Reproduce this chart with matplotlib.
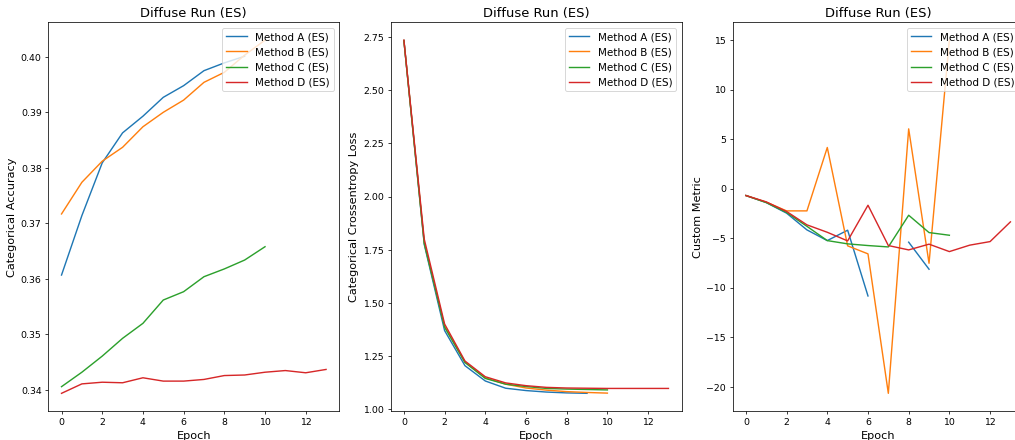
import numpy as np
import matplotlib
matplotlib.use("Agg")
import matplotlib.pyplot as plt

nan = np.nan
methods = ["Method A (ES)", "Method B (ES)", "Method C (ES)", "Method D (ES)"]
colors = ["#1f77b4", "#ff7f0e", "#2ca02c", "#d62728"]

# Categorical accuracy
acc_a = [0.3607, 0.3714, 0.3809, 0.3863, 0.3893, 0.3927, 0.3948, 0.3975, 0.3989, 0.4001]
acc_b = [0.3717, 0.3774, 0.3812, 0.3837, 0.3874, 0.3900, 0.3922, 0.3954, 0.3972, 0.4003, 0.4030]
acc_c = [0.3406, 0.3432, 0.3461, 0.3493, 0.3520, 0.3562, 0.3577, 0.3604, 0.3618, 0.3634, 0.3658]
acc_d = [0.3394, 0.3411, 0.3414, 0.3413, 0.3422, 0.3416, 0.3416, 0.3419, 0.3426, 0.3427,
         0.3432, 0.3435, 0.3431, 0.3437]

# Categorical crossentropy loss
loss_a = [2.734, 1.775, 1.370, 1.205, 1.133, 1.099, 1.088, 1.081, 1.077, 1.075]
loss_b = [2.734, 1.785, 1.390, 1.222, 1.148, 1.118, 1.100, 1.090, 1.083, 1.079, 1.076]
loss_c = [2.734, 1.780, 1.386, 1.220, 1.145, 1.118, 1.107, 1.098, 1.095, 1.093, 1.091]
loss_d = [2.736, 1.800, 1.401, 1.227, 1.153, 1.124, 1.111, 1.103, 1.100, 1.099, 1.098,
          1.098, 1.098, 1.098]

# Custom metric
cm_a = [-0.69, -1.40, -2.47, -4.16, -5.24, -4.19, -10.83, nan, -5.40, -8.13]
cm_b = [-0.69, -1.36, -2.24, -2.24, 4.16, -5.77, -6.58, -20.66, 6.04, -7.53, 15.0]
cm_c = [-0.69, -1.40, -2.40, -3.80, -5.24, -5.57, -5.74, -5.88, -2.68, -4.43, -4.70]
cm_d = [-0.69, -1.33, -2.30, -3.65, -4.40, -5.27, -1.67, -5.74, -6.18, -5.60, -6.35,
        -5.70, -5.34, -3.35]

panels = [
    ("Categorical Accuracy", [acc_a, acc_b, acc_c, acc_d]),
    ("Categorical Crossentropy Loss", [loss_a, loss_b, loss_c, loss_d]),
    ("Custom Metric", [cm_a, cm_b, cm_c, cm_d]),
]

fig = plt.figure(figsize=(15, 6.5), dpi=67.73)
W, H = 1016.0, 440.0
lefts = [48.3, 390.7, 732.7]
for left, (ylabel, series) in zip(lefts, panels):
    ax = fig.add_axes([left / W, 29 / H, 291 / W, 388.3 / H])
    for name, col, vals in zip(methods, colors, series):
        ax.plot(np.arange(len(vals)), vals, color=col, label=name)
    ax.set_title("Diffuse Run (ES)", fontsize=14)
    ax.set_xlabel("Epoch", fontsize=12)
    ax.set_ylabel(ylabel, fontsize=12)
    ax.set_xticks([0, 2, 4, 6, 8, 10, 12])
    ax.legend(loc="upper right", fontsize=11)

fig.savefig("out.png", dpi=67.73)
